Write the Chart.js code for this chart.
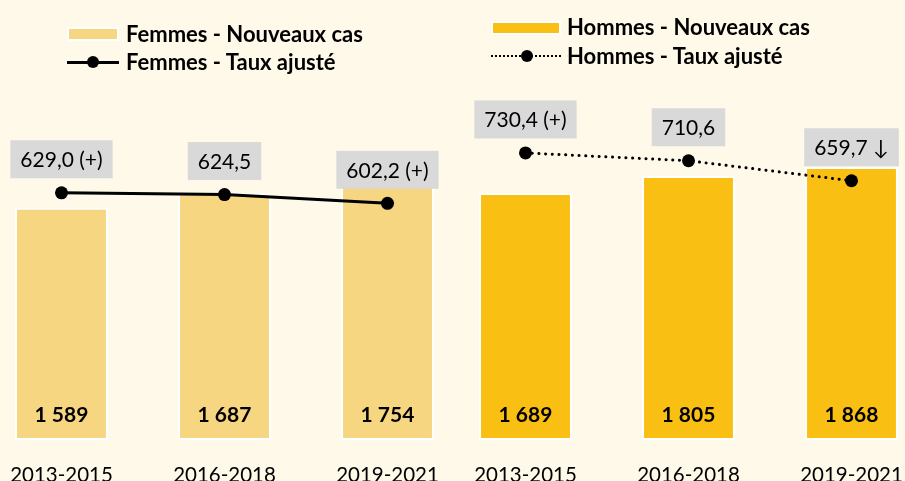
<!DOCTYPE html>
<html>
<head>
<meta charset="utf-8">
<script src="https://cdn.jsdelivr.net/npm/chart.js@4.4.1/dist/chart.umd.min.js"></script>
<style>
html, body { margin: 0; padding: 0; background: #FFF9EA; overflow: hidden; }
#wrap { position: relative; width: 905px; height: 481px; overflow: hidden; font-family: Lato, sans-serif; }
.box { position: absolute; top: 0; width: 489px; height: 488px; }
#box-f { left: -20px; }
#box-h { left: 444px; }
.txt { position: absolute; font-weight: bold; font-size: 22px; line-height: 26px; color: #000; white-space: nowrap; }
.sw { position: absolute; box-sizing: border-box; border: 2px solid #fff; }
.ln { position: absolute; height: 0; border-top: 3px solid #000; }
.ln.dot { border-top: 2px dotted #000; }
.pt { position: absolute; width: 12px; height: 12px; border-radius: 50%; background: #000; }
</style>
</head>
<body>
<div id="wrap">
  <div class="box" id="box-f"><canvas id="chart-f"></canvas></div>
  <div class="box" id="box-h"><canvas id="chart-h"></canvas></div>

  <div class="sw" style="left:67px;top:27px;width:52px;height:14px;background:#F6D680"></div>
  <div class="txt" style="left:126px;top:21px">Femmes - Nouveaux cas</div>
  <div class="ln" style="left:67px;top:61px;width:52px"></div>
  <div class="pt" style="left:87px;top:56px"></div>
  <div class="txt" style="left:126px;top:49px">Femmes - Taux ajusté</div>

  <div class="sw" style="left:491px;top:21px;width:70px;height:14px;background:#F9BF13"></div>
  <div class="txt" style="left:567px;top:14px">Hommes - Nouveaux cas</div>
  <div class="ln dot" style="left:491px;top:55px;width:70px"></div>
  <div class="pt" style="left:521px;top:50px"></div>
  <div class="txt" style="left:567px;top:43px">Hommes - Taux ajusté</div>
</div>

<script>
var periodes = ['2013-2015', '2016-2018', '2019-2021'];

var femmesCas = [1589, 1687, 1754];
var hommesCas = [1689, 1805, 1868];

var femmesTaux = [629.0, 624.5, 602.2];
var hommesTaux = [730.4, 710.6, 659.7];

// signes ajoutés après le taux
var femmesNotes = [' (+)', '', ' (+)'];
var hommesNotes = [' (+)', '', ' \u2193'];

var FONT = 'Lato, sans-serif';

function milliers(v) {
    return String(v).replace(/\B(?=(\d{3})+(?!\d))/g, ' ');
}
function virgule(v) {
    return v.toFixed(1).replace('.', ',');
}

// étiquettes : valeurs en bas des barres, taux dans une boîte grise
var etiquettes = {
    id: 'etiquettes',
    afterDatasetsDraw: function(chart) {
        var ctx = chart.ctx;
        ctx.save();
        chart.data.datasets.forEach(function(ds, i) {
            var meta = chart.getDatasetMeta(i);
            meta.data.forEach(function(el, j) {
                if (ds.type === 'bar') {
                    ctx.font = 'bold 21px ' + FONT;
                    ctx.fillStyle = '#000';
                    ctx.textAlign = 'center';
                    ctx.textBaseline = 'middle';
                    ctx.fillText(milliers(ds.data[j]), el.x, el.base - 25);
                } else {
                    var t = virgule(ds.data[j]) + ds.notes[j];
                    ctx.font = '21px ' + FONT;
                    var w = ctx.measureText(t).width + 20;
                    var h = 38;
                    var bas = el.y - 14.5;
                    ctx.fillStyle = '#D9D9D9';
                    ctx.fillRect(el.x - w / 2, bas - h, w, h);
                    ctx.fillStyle = '#000';
                    ctx.textAlign = 'center';
                    ctx.textBaseline = 'middle';
                    ctx.fillText(t, el.x, bas - h / 2 + 1);
                }
            });
        });
        ctx.restore();
    }
};

function graphique(id, cas, taux, notes, couleur, tirets) {
    return new Chart(document.getElementById(id), {
        type: 'bar',
        data: {
            labels: periodes,
            datasets: [
                {
                    type: 'line', data: taux, notes: notes, yAxisID: 'y2', order: 0,
                    borderColor: '#000', borderWidth: 3, borderDash: tirets,
                    borderCapStyle: 'round', tension: 0,
                    pointRadius: 6.5, pointBackgroundColor: '#000', pointBorderWidth: 0
                },
                {
                    type: 'bar', data: cas, yAxisID: 'y', order: 1,
                    backgroundColor: couleur, borderColor: '#fff', borderWidth: 2,
                    borderSkipped: false, barPercentage: 0.57, categoryPercentage: 1
                }
            ]
        },
        options: {
            responsive: true, maintainAspectRatio: false, animation: false,
            layout: { autoPadding: false, padding: { top: 74.5 } },
            plugins: { legend: { display: false }, tooltip: { enabled: false } },
            scales: {
                x: {
                    grid: { display: false, drawTicks: false }, border: { display: false },
                    ticks: { color: '#000', padding: 23, maxRotation: 0, font: { family: FONT, size: 20.5 } },
                    afterFit: function(scale) { scale.height = 48; }
                },
                y: { display: false, min: 0, max: 2500 },
                y2: { display: false, min: 0, max: 930 }
            }
        },
        plugins: [etiquettes]
    });
}

graphique('chart-f', femmesCas, femmesTaux, femmesNotes, '#F6D680', []);
graphique('chart-h', hommesCas, hommesTaux, hommesNotes, '#F9BF13', [0.1, 6.6]);
</script>
</body>
</html>
